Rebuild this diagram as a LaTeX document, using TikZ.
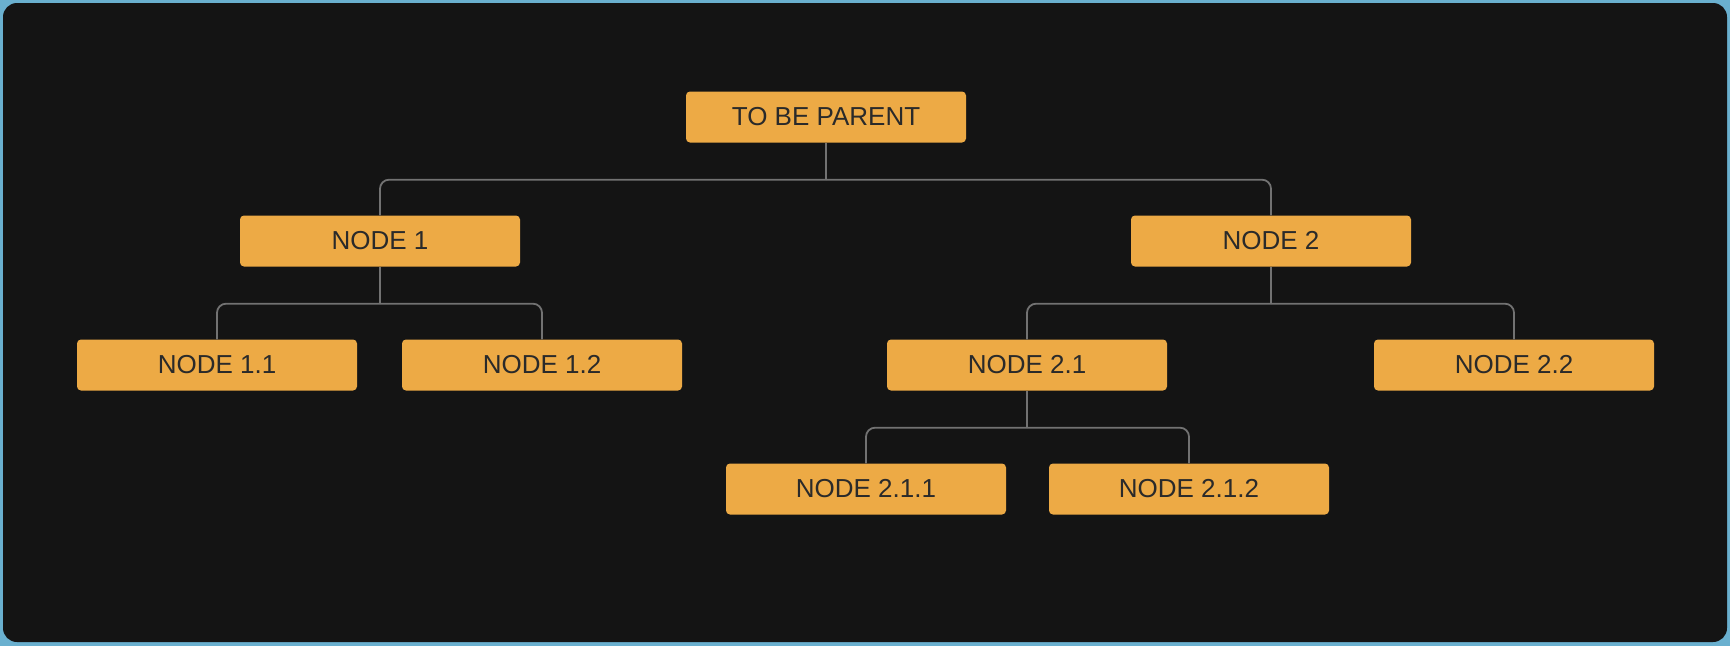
\documentclass[tikz,border=0pt]{standalone}
\usepackage{fontspec}
\setmainfont{Liberation Sans}
\definecolor{framebl}{HTML}{6AB0CF}
\definecolor{bgdark}{HTML}{141414}
\definecolor{boxor}{HTML}{EDAA45}
\definecolor{txtd}{HTML}{2A2A2A}
\definecolor{lineg}{HTML}{727272}
\begin{document}
\begin{tikzpicture}[x=1pt,y=-1pt,
  treebox/.style={draw=none,fill=boxor,rounded corners=4pt,minimum width=280pt,minimum height=51pt,inner sep=0pt,text=txtd,font=\fontsize{26}{30}\selectfont},
  conn/.style={draw=lineg,line width=1.8pt},
  elbowline/.style={conn,rounded corners=9pt}]
\fill[framebl] (0,0) rectangle (1730,646);
\fill[bgdark,rounded corners=14pt] (3,3) rectangle (1727,642);
\useasboundingbox (0,0) rectangle (1730,646);
\node[treebox] (p) at (826,117) {TO BE PARENT};
\node[treebox] (n1) at (380,241) {NODE 1};
\node[treebox] (n2) at (1271,241) {NODE 2};
\node[treebox] (n11) at (217,365) {NODE 1.1};
\node[treebox] (n12) at (542,365) {NODE 1.2};
\node[treebox] (n21) at (1027,365) {NODE 2.1};
\node[treebox] (n22) at (1514,365) {NODE 2.2};
\node[treebox] (n211) at (866,489) {NODE 2.1.1};
\node[treebox] (n212) at (1189,489) {NODE 2.1.2};
% parent
\draw[conn] (p.south) -- ++(0,37) coordinate (b0);
\draw[elbowline] (b0) -| (n1.north);
\draw[elbowline] (b0) -| (n2.north);
% node 1
\draw[conn] (n1.south) -- ++(0,37) coordinate (b1);
\draw[elbowline] (b1) -| (n11.north);
\draw[elbowline] (b1) -| (n12.north);
% node 2
\draw[conn] (n2.south) -- ++(0,37) coordinate (b2);
\draw[elbowline] (b2) -| (n21.north);
\draw[elbowline] (b2) -| (n22.north);
% node 2.1
\draw[conn] (n21.south) -- ++(0,37) coordinate (b3);
\draw[elbowline] (b3) -| (n211.north);
\draw[elbowline] (b3) -| (n212.north);
\end{tikzpicture}
\end{document}
